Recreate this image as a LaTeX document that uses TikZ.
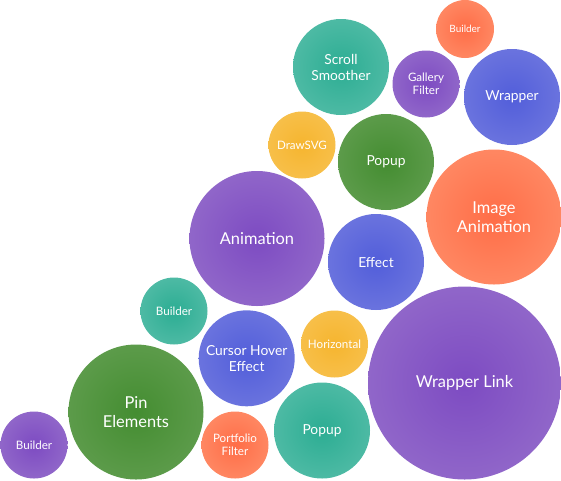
\documentclass[tikz,border=0pt]{standalone}
\usepackage{fontspec}
\setmainfont{Lato}
\definecolor{PurpleIn}{HTML}{7D4BC2}
\definecolor{PurpleOut}{HTML}{9066C9}
\definecolor{BlueIn}{HTML}{525EDA}
\definecolor{BlueOut}{HTML}{6A73DE}
\definecolor{TealIn}{HTML}{2CAD93}
\definecolor{TealOut}{HTML}{4DBAA4}
\definecolor{GreenIn}{HTML}{448D31}
\definecolor{GreenOut}{HTML}{5C9B4A}
\definecolor{OrangeIn}{HTML}{FF6D47}
\definecolor{OrangeOut}{HTML}{FF8762}
\definecolor{YellowIn}{HTML}{F6B52F}
\definecolor{YellowOut}{HTML}{F7BF49}
\begin{document}
\begin{tikzpicture}[x=1pt,y=-1pt,
  bub/.style={circle,inner sep=0pt,text=white,align=center,shading=radial},
  bpurple/.style={bub,inner color=PurpleIn,outer color=PurpleOut},
  bblue/.style={bub,inner color=BlueIn,outer color=BlueOut},
  bteal/.style={bub,inner color=TealIn,outer color=TealOut},
  bgreen/.style={bub,inner color=GreenIn,outer color=GreenOut},
  borange/.style={bub,inner color=OrangeIn,outer color=OrangeOut},
  byellow/.style={bub,inner color=YellowIn,outer color=YellowOut},
  sxs/.style={minimum size=58pt,font=\fontsize{10}{12}\selectfont},
  ss/.style={minimum size=67pt,font=\fontsize{11.6}{13.5}\selectfont},
  sm/.style={minimum size=96pt,font=\fontsize{13.8}{16}\selectfont},
  sl/.style={minimum size=135pt,font=\fontsize{16.4}{18.5}\selectfont},
  sxl/.style={minimum size=193pt,font=\fontsize{16.4}{18.5}\selectfont}
]
\useasboundingbox (0,0) rectangle (561,480);
% top right cluster
\node[borange,sxs] (builderA) at (465,29)   {Builder};
\node[bblue,sm]    (wrapper)  at (512,97)   {Wrapper};
\node[bteal,sm]    (scroll)   at (341,67)   {Scroll\\Smoother};
\node[bpurple,ss]  (gallery)  at (426,84)   {Gallery\\Filter};
\node[byellow,ss]  (drawsvg)  at (302,145)  {DrawSVG};
\node[bgreen,sm]   (popupA)   at (386,162)  {Popup};
% middle
\node[bpurple,sl]  (anim)     at (257,238.5){Animation};
\node[bblue,sm]    (effect)   at (376,262)  {Effect};
\node[borange,sl]  (imganim)  at (494,217)  {Image\\Animation};
\node[bpurple,sxl] (wlink)    at (464.5,383){Wrapper Link};
% bottom left cluster
\node[bteal,ss]    (builderB) at (174,311)  {Builder};
\node[bgreen,sl]   (pin)      at (136,412)  {Pin\\Elements};
\node[bpurple,ss]  (builderC) at (34,445)   {Builder};
\node[bblue,sm]    (cursor)   at (246.7,358.3){Cursor Hover\\Effect};
\node[byellow,ss]  (horiz)    at (334.5,344){Horizontal};
\node[bteal,sm]    (popupB)   at (322,430.5){Popup};
\node[borange,ss]  (portf)    at (235,445)  {Portfolio\\Filter};
\end{tikzpicture}
\end{document}
